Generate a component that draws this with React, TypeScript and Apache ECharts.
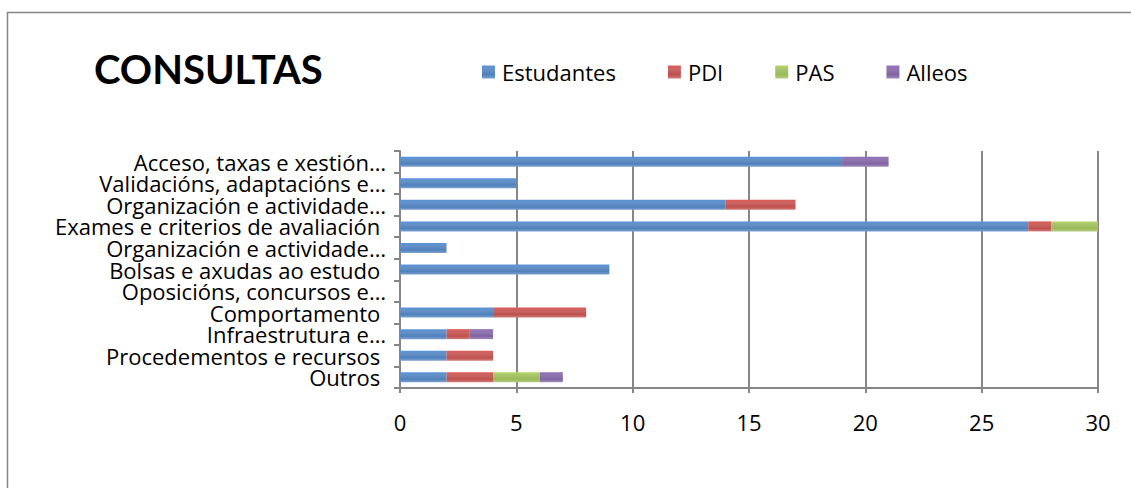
import React, { useEffect, useRef } from "react";
import * as echarts from "echarts";

const categories = [
  "Acceso, taxas e xestión…",
  "Validacións, adaptacións e…",
  "Organización e actividade…",
  "Exames e criterios de avaliación ",
  "Organización e actividade…",
  "Bolsas e axudas ao estudo ",
  "Oposicións, concursos e…",
  "Comportamento ",
  "Infraestrutura e…",
  "Procedementos e recursos ",
  "Outros ",
];
const estudantes = [19, 5, 14, 27, 2, 9, 0, 4, 2, 2, 2];
const pdi = [0, 0, 3, 1, 0, 0, 0, 4, 1, 2, 2];
const pas = [0, 0, 0, 2, 0, 0, 0, 0, 0, 0, 2];
const alleos = [2, 0, 0, 0, 0, 0, 0, 0, 1, 0, 1];
const xTicks = [0, 5, 10, 15, 20, 25, 30];

const seriesNames = ["Estudantes", "PDI", "PAS", "Alleos"];
const seriesColors = ["#4F81BD", "#C0504D", "#9BBB59", "#8064A2"];
const seriesValues = [estudantes, pdi, pas, alleos];

const FONT = "'Open Sans', sans-serif";

function cyl(c: string) {
  return new echarts.graphic.LinearGradient(0, 0, 0, 1, [
    { offset: 0, color: echarts.color.lift(c, -0.15) as string },
    { offset: 0.35, color: echarts.color.lift(c, 0.12) as string },
    { offset: 0.7, color: c },
    { offset: 1, color: echarts.color.lift(c, 0.25) as string },
  ]);
}

export default function App() {
  const ref = useRef<HTMLDivElement>(null);
  useEffect(() => {
    document.body.style.margin = "0";
    const chart = echarts.init(ref.current!, null, { renderer: "svg" });
    chart.setOption({
      animation: false,
      backgroundColor: "#ffffff",
      title: {
        text: "CONSULTAS",
        left: 89,
        top: 44,
        textStyle: { fontSize: 40, fontWeight: "bold", fontFamily: "Lato, sans-serif", color: "#000" },
      },
      legend: {
        data: seriesNames,
        left: 477,
        top: 56,
        itemWidth: 13,
        itemHeight: 13,
        itemGap: 52,
        icon: "rect",
        textStyle: { fontSize: 22, fontFamily: FONT, color: "#000", padding: [0, 0, 0, 2] },
      },
      graphic: [
        {
          type: "rect",
          shape: { x: 7.5, y: 12.5, width: 1140, height: 500 },
          style: { fill: "none", stroke: "#868686", lineWidth: 1.5 },
          silent: true,
        },
      ],
      grid: { left: 400, right: 33, top: 151, bottom: 100 },
      xAxis: {
        type: "value",
        min: xTicks[0],
        max: xTicks[xTicks.length - 1],
        interval: 5,
        axisLine: { show: true, lineStyle: { color: "#868686", width: 2 } },
        axisTick: { show: true, length: 5, lineStyle: { color: "#868686", width: 2 } },
        splitLine: { show: true, lineStyle: { color: "#868686", width: 2 } },
        axisLabel: { fontSize: 22, fontFamily: FONT, color: "#000", margin: 23 },
      },
      yAxis: {
        type: "category",
        inverse: true,
        data: categories,
        axisLine: { show: true, lineStyle: { color: "#868686", width: 2 } },
        axisTick: { show: true, length: 6, lineStyle: { color: "#868686", width: 2 } },
        axisLabel: {
          fontSize: 22,
          lineHeight: 19,
          fontFamily: FONT,
          color: "#000",
          margin: 14,
          interval: 0,
        },
      },
      series: seriesNames.map((name, i) => ({
        name,
        type: "bar",
        stack: "total",
        barWidth: 10,
        data: seriesValues[i],
        itemStyle: { color: cyl(seriesColors[i]) },
        color: seriesColors[i],
      })),
    });
    return () => chart.dispose();
  }, []);
  return <div ref={ref} style={{ width: 1131, height: 488 }} />;
}
